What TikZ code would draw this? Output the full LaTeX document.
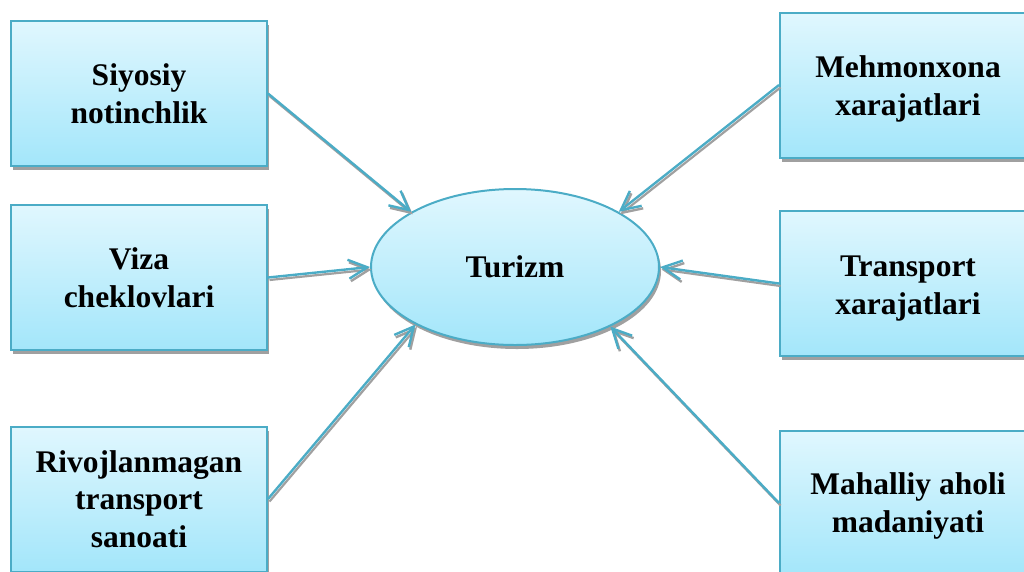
\documentclass[tikz,border=0pt]{standalone}
\usepackage{fontspec}
\setmainfont{Liberation Serif}
\usetikzlibrary{arrows.meta,shadows,shapes.geometric}
\definecolor{edgec}{HTML}{4BACC6}
\definecolor{topc}{HTML}{E0F7FE}
\definecolor{botc}{HTML}{A3E6FA}
\definecolor{shadc}{HTML}{A0A0A0}
\tikzset{
  labelfont/.style={font=\fontsize{31.5}{37.5}\selectfont\bfseries},
  box/.style={draw=edgec, line width=2pt, top color=topc, bottom color=botc,
    minimum width=256pt, minimum height=145pt, inner sep=0pt,
    drop shadow={shadow xshift=1.5pt, shadow yshift=-4pt, fill=shadc, opacity=1}},
  txt/.style 2 args={label={[labelfont, align=center, yshift=#1]center:#2}},
  oval/.style={ellipse, draw=edgec, line width=2pt, top color=topc, bottom color=botc,
    minimum width=288pt, minimum height=156pt, inner sep=0pt, labelfont,
    drop shadow={shadow xshift=2pt, shadow yshift=-4pt, fill=shadc, opacity=1}},
  tipshape/.style={-{Straight Barb[length=19pt,width=19pt,line width=2.4pt]}},
  conn/.style={draw=edgec, line width=2.4pt, tipshape},
  connshadow/.style={draw=shadc, line width=2.2pt, tipshape,
    transform canvas={shift={(1.5pt,-2.5pt)}}}
}
\begin{document}
\begin{tikzpicture}[x=1pt,y=-1pt]
\useasboundingbox (0,0) rectangle (1024,571);
\node[box, txt={0pt}{Siyosiy\\notinchlik}] (l1) at (139,93.5) {};
\node[box, txt={0pt}{Viza\\cheklovlari}] (l2) at (139,277.5) {};
\node[box, txt={0pt}{Rivojlanmagan\\transport\\sanoati}] (l3) at (139,499) {};
\node[box, txt={-4pt}{Mehmonxona\\xarajatlari}] (r1) at (908,85) {};
\node[box, txt={-5pt}{Transport\\xarajatlari}] (r2) at (908,283.5) {};
\node[box, txt={-3pt}{Mahalliy aholi\\madaniyati}] (r3) at (908,503) {};
\node[oval] (t) at (515,267) {Turizm};
\foreach \s/\a in {l1.east/152, l2.east/180, l3.east/210, r1.west/28, r2.west/0, r3.west/-32}{
  \draw[connshadow] (\s) -- (t.\a);
}
\foreach \s/\a in {l1.east/152, l2.east/180, l3.east/210, r1.west/28, r2.west/0, r3.west/-32}{
  \draw[conn] (\s) -- (t.\a);
}
\end{tikzpicture}
\end{document}
